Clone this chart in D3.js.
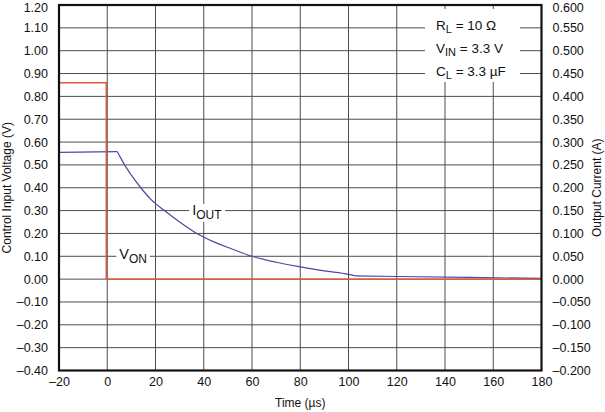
<!DOCTYPE html>
<html><head><meta charset="utf-8">
<script src="https://cdn.jsdelivr.net/npm/d3@7"></script>
<style>
body{margin:0;background:#fff;}
svg{display:block;font-family:"Liberation Sans",Arial,Helvetica,sans-serif;}
</style></head>
<body>
<svg id="chart" width="605" height="412"></svg>
<script>
// ---- data ----
const timeTicks = [-20, 0, 20, 40, 60, 80, 100, 120, 140, 160, 180];
const voltTicks = [-0.4, -0.3, -0.2, -0.1, 0, 0.1, 0.2, 0.3, 0.4, 0.5, 0.6, 0.7, 0.8, 0.9, 1.0, 1.1, 1.2];
const currTicks = [-0.2, -0.15, -0.1, -0.05, 0, 0.05, 0.1, 0.15, 0.2, 0.25, 0.3, 0.35, 0.4, 0.45, 0.5, 0.55, 0.6];

// V_ON control input voltage (V)
const vonTime  = [-20, -0.4, -0.4, 180];
const vonValue = [0.86, 0.86, 0.0, 0.0];

// I_OUT output current (A)
const ioutTime  = [-20, 4.2, 5.5, 7.2, 10, 13.9, 18, 23.7, 30, 37.1, 44, 50.7, 60, 70, 80, 90, 100, 102.8, 120, 150, 180];
const ioutValue = [0.2775, 0.279, 0.266, 0.25, 0.2275, 0.2, 0.175, 0.15, 0.125, 0.1, 0.082, 0.068, 0.05, 0.037, 0.027, 0.018, 0.0105, 0.0072, 0.0058, 0.0037, 0.0015];

const conditions = [
  {main: "R", sub: "L", rest: " = 10 \u03A9"},
  {main: "V", sub: "IN", rest: " = 3.3 V"},
  {main: "C", sub: "L", rest: " = 3.3 \u00B5F"}
];

// ---- layout ----
const W = 605, H = 412;
const m = {left: 59, right: 63.5, top: 5, bottom: 41.5};
const svg = d3.select("#chart");
const x = d3.scaleLinear().domain([-20, 180]).range([m.left, W - m.right]);
const yL = d3.scaleLinear().domain([-0.4, 1.2]).range([H - m.bottom, m.top]);
const yR = d3.scaleLinear().domain([-0.2, 0.6]).range([H - m.bottom, m.top]);

const dash = s => s.replace(/[-\u2212]/g, "\u2013");
const fmtL = v => dash(d3.format(".2f")(v));
const fmtR = v => dash(d3.format(".3f")(v));
const fmtX = v => dash(d3.format("d")(v));

const gridColor = "#4d4d4d";
// grid
const grid = svg.append("g");
grid.selectAll("line.h").data(voltTicks.slice(1, -1)).join("line")
  .attr("x1", m.left).attr("x2", W - m.right)
  .attr("y1", d => yL(d)).attr("y2", d => yL(d))
  .attr("stroke", gridColor).attr("stroke-width", 1);
grid.selectAll("line.v").data(timeTicks.slice(1, -1)).join("line")
  .attr("y1", m.top).attr("y2", H - m.bottom)
  .attr("x1", d => x(d)).attr("x2", d => x(d))
  .attr("stroke", gridColor).attr("stroke-width", 1);

// conditions box (white background interrupting grid)
svg.append("rect").attr("x", 425).attr("y", 9).attr("width", 95).attr("height", 73).attr("fill", "#fff");
const cond = svg.append("g").attr("font-size", 13.5).attr("fill", "#111");
conditions.forEach((c, i) => {
  const t = cond.append("text").attr("x", 436).attr("y", 29.5 + i * 23);
  t.append("tspan").text(c.main);
  t.append("tspan").attr("font-size", 11).attr("dy", 3).text(c.sub);
  t.append("tspan").attr("dy", -3).text(c.rest);
});

// lines
const pts = ioutTime.map((t, i) => [x(t), yR(ioutValue[i])]);
const flatPart = pts.slice(0, 2);
const decayPart = pts.slice(1, 18);
const tailPart = pts.slice(17);
const lin = d3.line();
const mono = d3.line().curve(d3.curveMonotoneX);
const blue = svg.append("g").attr("fill", "none").attr("stroke", "#4a4aa0").attr("stroke-width", 1.2);
blue.append("path").attr("d", lin(flatPart));
blue.append("path").attr("d", mono(decayPart));
blue.append("path").attr("d", lin(tailPart));
svg.append("path")
  .attr("d", lin(vonTime.map((t, i) => [x(t), yL(vonValue[i])])))
  .attr("fill", "none").attr("stroke", "#e4583c").attr("stroke-width", 1.5);

// series labels with white background
function seriesLabel(px, py, main, sub) {
  const g = svg.append("g");
  const bg = g.append("rect").attr("fill", "#fff");
  const t = g.append("text").attr("x", px).attr("y", py).attr("font-size", 14.5).attr("fill", "#111");
  t.append("tspan").text(main);
  t.append("tspan").attr("font-size", 12).attr("dy", 4).text(sub);
  const bb = t.node().getBBox();
  bg.attr("x", bb.x - 3).attr("y", bb.y + 2).attr("width", bb.width + 6).attr("height", bb.height - 2);
}
seriesLabel(x(35.2), 215, "I", "OUT");
seriesLabel(x(5), 259, "V", "ON");

// frame
svg.append("rect").attr("x", m.left).attr("y", m.top)
  .attr("width", W - m.left - m.right).attr("height", H - m.top - m.bottom)
  .attr("fill", "none").attr("stroke", "#111").attr("stroke-width", 2.2);

// axes
const axL = svg.append("g").attr("transform", `translate(${m.left},0)`)
  .call(d3.axisLeft(yL).tickValues(voltTicks).tickFormat(fmtL).tickSize(0).tickPadding(11));
const axR = svg.append("g").attr("transform", `translate(${W - m.right},0)`)
  .call(d3.axisRight(yR).tickValues(currTicks).tickFormat(fmtR).tickSize(0).tickPadding(11));
const axB = svg.append("g").attr("transform", `translate(0,${H - m.bottom})`)
  .call(d3.axisBottom(x).tickValues(timeTicks).tickFormat(fmtX).tickSize(0).tickPadding(7));
[axL, axR, axB].forEach(a => {
  a.select(".domain").remove();
  a.selectAll("text").attr("font-size", 12.5).attr("fill", "#111")
    .attr("font-family", "'Liberation Sans',Arial,sans-serif");
});
// keep top-most tick labels fully inside the picture
axL.selectAll(".tick").filter(d => d === 1.2).select("text").attr("dy", "0.5em");
axR.selectAll(".tick").filter(d => d === 0.6).select("text").attr("dy", "0.5em");

// axis titles
svg.append("text").attr("transform", `translate(11,${(m.top + H - m.bottom) / 2}) rotate(-90)`)
  .attr("text-anchor", "middle").attr("font-size", 12).attr("fill", "#111")
  .text("Control Input Voltage (V)");
svg.append("text").attr("transform", `translate(601,${(m.top + H - m.bottom) / 2}) rotate(-90)`)
  .attr("text-anchor", "middle").attr("font-size", 12).attr("fill", "#111")
  .text("Output Current (A)");
svg.append("text").attr("x", (m.left + W - m.right) / 2).attr("y", 407)
  .attr("text-anchor", "middle").attr("font-size", 12).attr("fill", "#111")
  .text("Time (\u00B5s)");
</script>
</body></html>
